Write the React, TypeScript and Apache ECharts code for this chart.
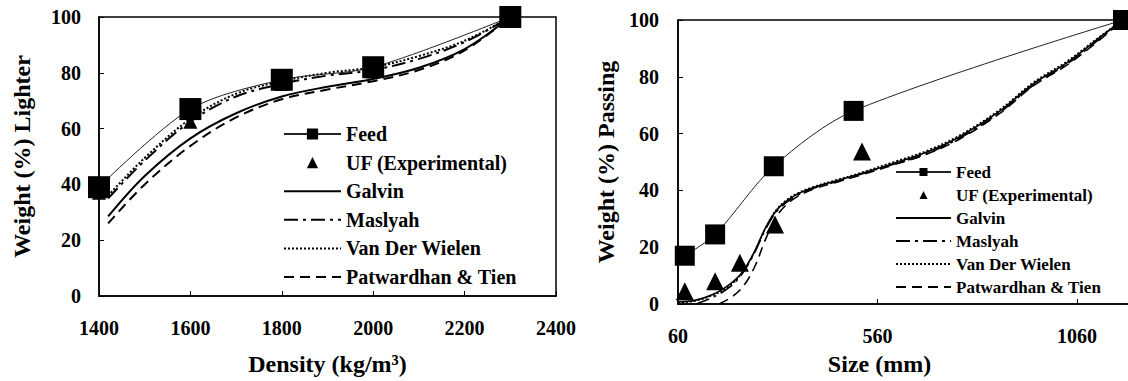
import React, { useEffect, useRef } from "react";
import * as echarts from "echarts";

const FONT = "Liberation Serif";

// ---------- Left chart data (Density vs Weight % Lighter) ----------
const leftXTicks = [1400, 1600, 1800, 2000, 2200, 2400];
const leftFeed = [[1400, 39], [1600, 67], [1800, 77.5], [2000, 82], [2300, 100]];
const leftUF = [[1400, 37], [1600, 62.5], [1800, 76], [2000, 80.5], [2300, 100]];
const leftGalvin = [[1420, 28.5], [1500, 43], [1600, 56.5], [1700, 65.5], [1800, 71.5], [1900, 75], [2000, 77.8], [2100, 81.8], [2200, 88.5], [2300, 100]];
const leftMaslyah = [[1420, 35], [1500, 48.5], [1600, 62.5], [1700, 71.5], [1800, 76], [1900, 79], [2000, 81], [2100, 85], [2200, 91], [2300, 100]];
const leftVanDerWielen = [[1420, 36], [1500, 49.5], [1600, 63.5], [1700, 72.5], [1800, 77], [1900, 80], [2000, 82], [2100, 86], [2200, 91.5], [2300, 100]];
const leftPatwardhan = [[1420, 26], [1500, 40], [1600, 53.8], [1700, 64], [1800, 70.5], [1900, 74], [2000, 77], [2100, 81], [2200, 88], [2300, 100]];

// ---------- Right chart data (Size vs Weight % Passing) ----------
const rightXTicks = [60, 560, 1060];
const rightFeed = [[77, 17], [153, 24.5], [300, 48.5], [500, 68], [1175, 100]];
const rightUF = [[77, 4.5], [153, 8], [215, 14.5], [303, 28], [521, 53.7], [1175, 100]];
const rightGalvin = [[60, 0.8], [100, 1.2], [150, 3.5], [190, 7], [220, 11], [250, 18], [280, 27], [310, 33.5], [350, 38], [400, 41], [460, 43.5], [520, 46], [600, 49.5], [684, 53.5], [767, 59], [867, 68], [950, 77.5], [1035, 85], [1118, 94], [1175, 100]];
const rightMaslyah = [[105, 0], [150, 2.5], [190, 6], [220, 10.5], [250, 17.5], [280, 26.5], [310, 33], [350, 37.5], [400, 40.8], [460, 43.2], [520, 45.8], [600, 49.2], [684, 53], [767, 58.5], [867, 67.5], [950, 77], [1035, 84.5], [1118, 93.5], [1175, 100]];
const rightVanDerWielen = [[60, 0.5], [100, 1], [150, 3.2], [190, 6.5], [220, 10.8], [250, 17.8], [280, 27], [310, 33.8], [350, 38.3], [400, 41.3], [460, 43.8], [520, 46.3], [600, 50], [684, 54], [767, 59.5], [867, 68.5], [950, 78], [1035, 85.5], [1118, 94.3], [1175, 100]];
const rightPatwardhan = [[163, 0], [200, 3], [230, 7.5], [255, 14], [280, 23], [310, 31.5], [350, 37], [400, 40.5], [460, 43], [520, 45.5], [600, 49], [684, 52.8], [767, 58.2], [867, 67.2], [950, 76.8], [1035, 84.2], [1118, 93.2], [1175, 100]];

const legendNames = ["Feed", "UF (Experimental)", "Galvin", "Maslyah", "Van Der Wielen", "Patwardhan & Tien"];

const labelStyle = { color: "#000", fontFamily: FONT, fontWeight: "bold" as const, fontSize: 20 };
const titleStyle = { color: "#000", fontFamily: FONT, fontWeight: "bold" as const, fontSize: 24 };
const plain = (v: number) => String(v);

function legendData() {
  return legendNames.map((n, i) => (i >= 2 ? { name: n, itemStyle: { opacity: 0 } } : { name: n }));
}

function buildSeries(
  feed: number[][], uf: number[][], g: number[][], m: number[][], v: number[][], p: number[][],
  cfg: { feedSize: number; ufSize: number; lw: number; feedLw: number }
) {
  const line = (name: string, data: number[][], type: any) => ({
    name, type: "line", data, smooth: 0.35, symbol: "none", z: 2,
    lineStyle: { color: "#000", width: cfg.lw, type },
    itemStyle: { color: "#000" },
  });
  return [
    line("Galvin", g, "solid"),
    line("Maslyah", m, [14, 5, 3, 5]),
    line("Van Der Wielen", v, [2, 2]),
    line("Patwardhan & Tien", p, [10, 6]),
    {
      name: "UF (Experimental)", type: "line", data: uf, symbol: "triangle",
      symbolSize: cfg.ufSize, showAllSymbol: true, z: 3,
      lineStyle: { width: 0, opacity: 0 },
      itemStyle: { color: "#000", opacity: 1 },
    },
    {
      name: "Feed", type: "line", data: feed, smooth: 0.3, symbol: "rect",
      symbolSize: cfg.feedSize, showAllSymbol: true, z: 4,
      lineStyle: { color: "#222", width: cfg.feedLw },
      itemStyle: { color: "#000", opacity: 1 },
    },
  ];
}

export default function App() {
  const leftRef = useRef<HTMLDivElement>(null);
  const rightRef = useRef<HTMLDivElement>(null);

  useEffect(() => {
    const l = echarts.init(leftRef.current!, null, { renderer: "svg" });
    const r = echarts.init(rightRef.current!, null, { renderer: "svg" });

    const axisCommon = {
      axisLine: { show: true, lineStyle: { color: "#000", width: 1.5 } },
      axisTick: { show: true, inside: true, length: 5, lineStyle: { color: "#000", width: 1 } },
      splitLine: { show: false },
    };

    l.setOption({
      animation: false,
      backgroundColor: "#fff",
      textStyle: { fontFamily: FONT },
      grid: { left: 99, top: 17, width: 457, height: 280, show: true, borderColor: "#000", borderWidth: 1.5 },
      xAxis: {
        type: "value", min: leftXTicks[0], max: leftXTicks[leftXTicks.length - 1], interval: 200,
        ...axisCommon,
        axisLabel: { ...labelStyle, margin: 22, formatter: plain },
        name: "Density (kg/m³)", nameLocation: "middle", nameGap: 56, nameTextStyle: titleStyle,
      },
      yAxis: {
        type: "value", min: 0, max: 100, interval: 20,
        ...axisCommon,
        axisLabel: { ...labelStyle, margin: 18, formatter: plain },
        name: "Weight (%) Lighter", nameLocation: "middle", nameGap: 65, nameTextStyle: titleStyle,
      },
      legend: {
        orient: "vertical", left: 283, top: 124, padding: 0, itemWidth: 57, itemHeight: 14, itemGap: 8.6,
        textStyle: { ...labelStyle, fontSize: 20, lineHeight: 20 },
        data: legendData(),
      },
      series: buildSeries(leftFeed, leftUF, leftGalvin, leftMaslyah, leftVanDerWielen, leftPatwardhan,
        { feedSize: 22, ufSize: 14, lw: 2, feedLw: 1 }),
    });

    r.setOption({
      animation: false,
      backgroundColor: "#fff",
      textStyle: { fontFamily: FONT },
      grid: { left: 98, top: 20, width: 455, height: 285, show: true, borderColor: "#000", borderWidth: 1.5 },
      xAxis: {
        type: "value", min: 60, max: 1200,
        ...axisCommon,
        axisTick: { ...axisCommon.axisTick, customValues: rightXTicks },
        axisLabel: { ...labelStyle, margin: 22, customValues: rightXTicks, formatter: plain },
        name: "Size (mm)", nameLocation: "middle", nameGap: 48,
        nameTextStyle: { ...titleStyle, padding: [0, 52, 0, 0] },
      },
      yAxis: {
        type: "value", min: 0, max: 100, interval: 20,
        ...axisCommon,
        axisLabel: { ...labelStyle, margin: 19, formatter: plain },
        name: "Weight (%) Passing", nameLocation: "middle", nameGap: 59, nameTextStyle: titleStyle,
      },
      legend: {
        orient: "vertical", left: 315, top: 163.5, padding: 0, itemWidth: 55, itemHeight: 10, itemGap: 6,
        textStyle: { ...labelStyle, fontSize: 17, lineHeight: 17 },
        data: legendData(),
      },
      series: buildSeries(rightFeed, rightUF, rightGalvin, rightMaslyah, rightVanDerWielen, rightPatwardhan,
        { feedSize: 20, ufSize: 18, lw: 1.6, feedLw: 1 }),
    });

    return () => {
      l.dispose();
      r.dispose();
    };
  }, []);

  return (
    <div style={{ position: "fixed", left: 0, top: 0, width: 1128, height: 381, overflow: "hidden", background: "#fff" }}>
      <div ref={leftRef} style={{ position: "absolute", left: 0, top: 0, width: 580, height: 381 }} />
      <div ref={rightRef} style={{ position: "absolute", left: 580, top: 0, width: 600, height: 381 }} />
    </div>
  );
}
